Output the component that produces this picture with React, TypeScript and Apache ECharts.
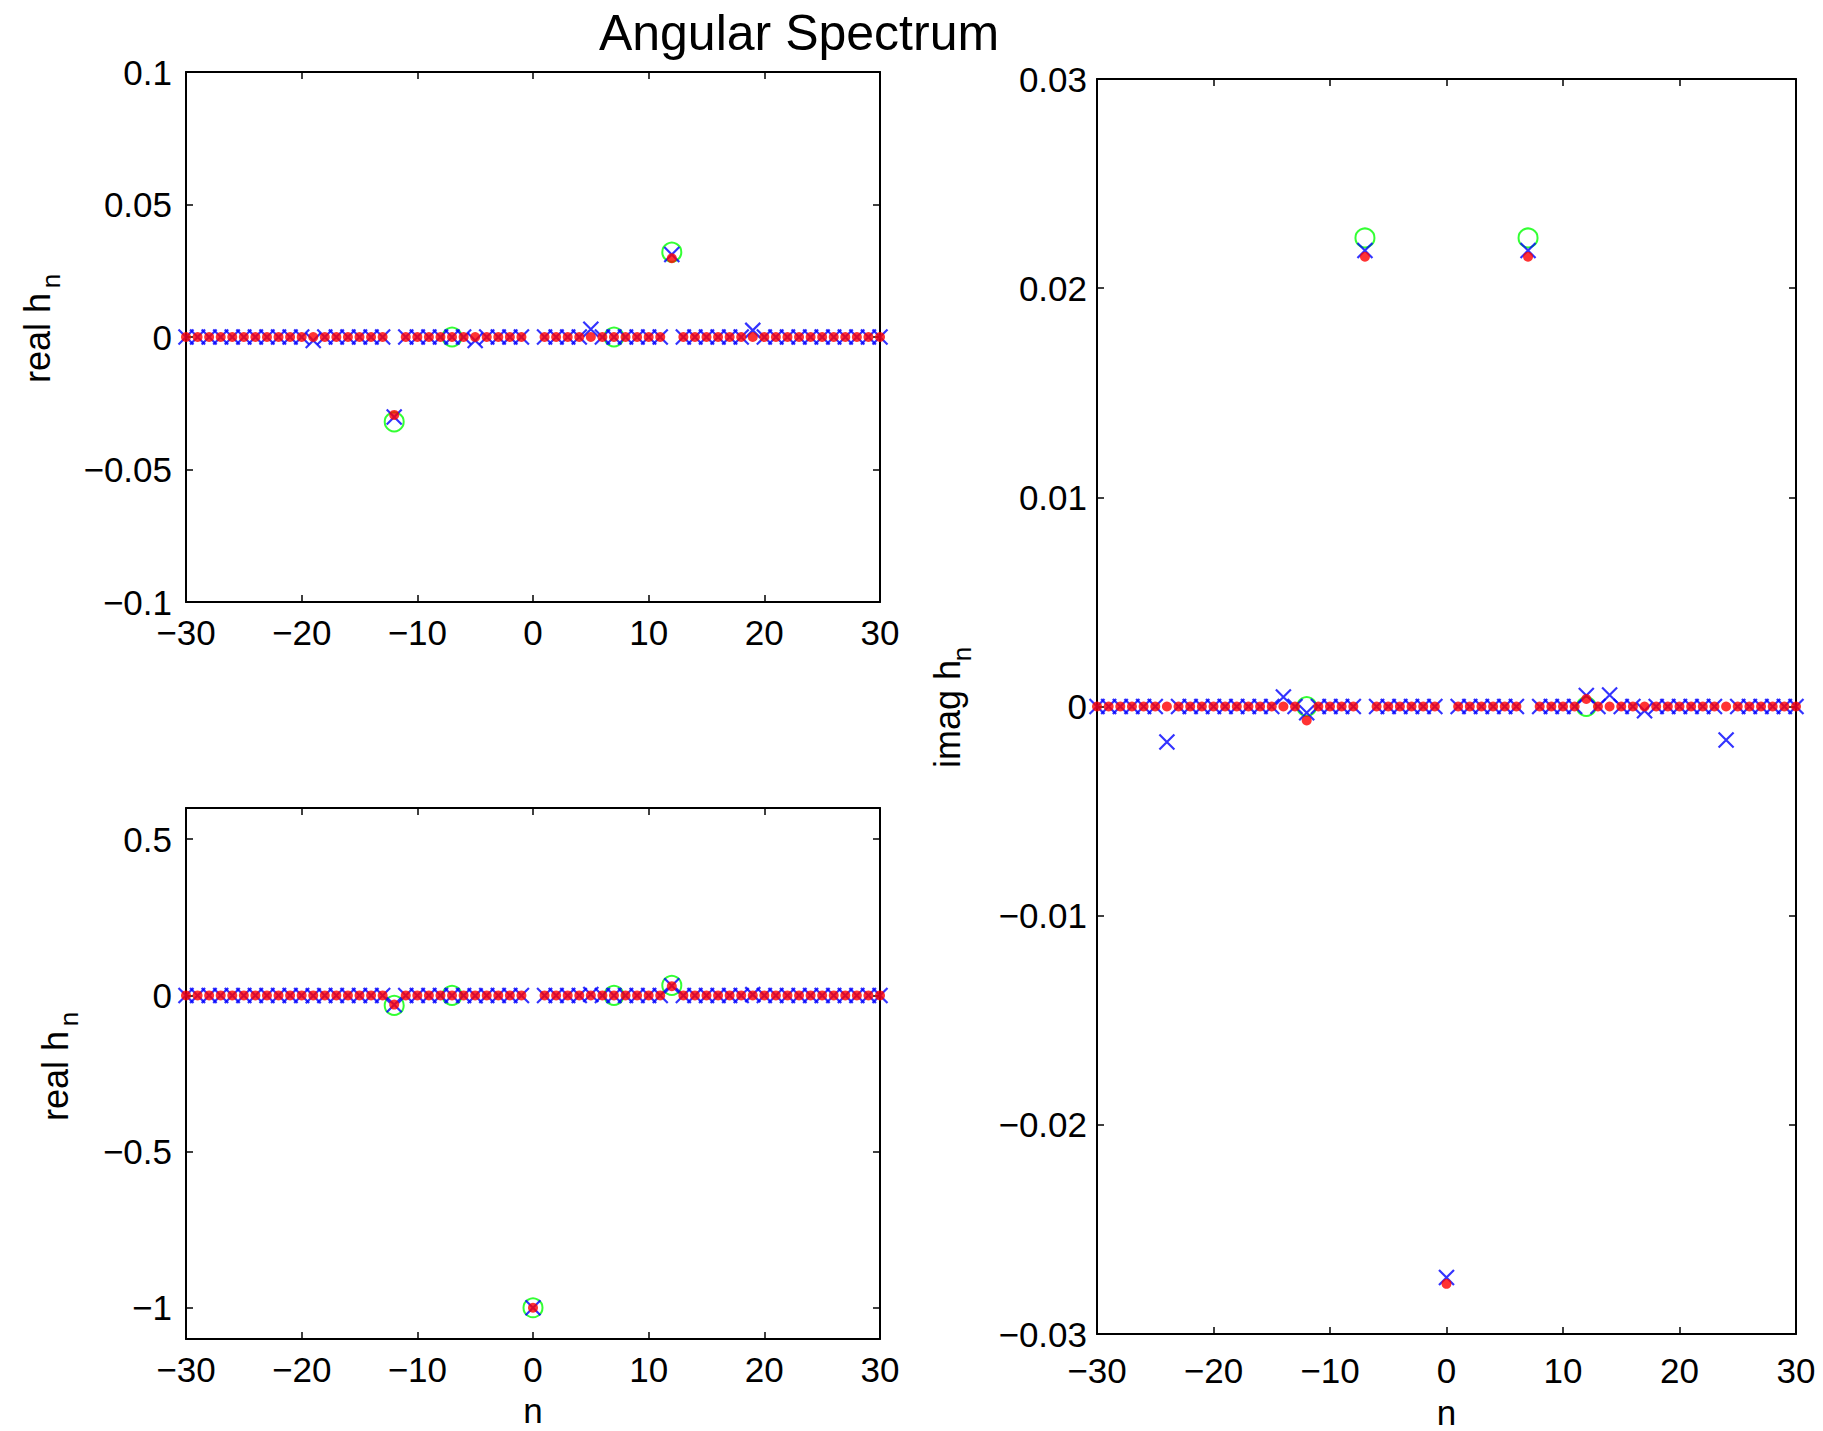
import React, { useEffect, useRef } from "react";
import * as echarts from "echarts";

// ---- data ----
const nValues = [
  -30, -29, -28, -27, -26, -25, -24, -23, -22, -21,
  -20, -19, -18, -17, -16, -15, -14, -13, -12, -11,
  -10, -9, -8, -7, -6, -5, -4, -3, -2, -1,
  0, 1, 2, 3, 4, 5, 6, 7, 8, 9,
  10, 11, 12, 13, 14, 15, 16, 17, 18, 19,
  20, 21, 22, 23, 24, 25, 26, 27, 28, 29,
  30,
];

// true (green circles), only at a few n
const realTrueN = [-12, -7, 0, 7, 12];
const realTrueVals = [-0.032, 0, -1, 0, 0.032];
const imagTrueN = [-12, -7, 7, 12];
const imagTrueVals = [0, 0.0224, 0.0224, 0];

// estimate (blue x)
const realEst = [
  0, 0, 0, 0, 0, 0, 0, 0, 0, 0,
  0, -0.0013, 0, 0, 0, 0, 0, 0, -0.0302, 0,
  0, 0, 0, 0, 0, -0.0013, 0, 0, 0, 0,
  -1, 0, 0, 0, 0, 0.0029, 0, 0, 0, 0,
  0, 0, 0.0311, 0, 0, 0, 0, 0, 0, 0.0025,
  0, 0, 0, 0, 0, 0, 0, 0, 0, 0,
  0,
];
// reconstruction (red dots)
const realRecon = [
  0, 0, 0, 0, 0, 0, 0, 0, 0, 0,
  0, 0, 0, 0, 0, 0, 0, 0, -0.0294, 0,
  0, 0, 0, 0, 0, 0, 0, 0, 0, 0,
  -1, 0, 0, 0, 0, 0, 0, 0, 0, 0,
  0, 0, 0.0297, 0, 0, 0, 0, 0, 0, 0,
  0, 0, 0, 0, 0, 0, 0, 0, 0, 0,
  0,
];
const imagEst = [
  0, 0, 0, 0, 0, 0, -0.0017, 0, 0, 0,
  0, 0, 0, 0, 0, 0, 0.00045, 0, -0.0003, 0,
  0, 0, 0, 0.0218, 0, 0, 0, 0, 0, 0,
  -0.0273, 0, 0, 0, 0, 0, 0, 0.0218, 0, 0,
  0, 0, 0.00053, 0, 0.00055, 0, 0, -0.0002, 0, 0,
  0, 0, 0, 0, -0.0016, 0, 0, 0, 0, 0,
  0,
];
const imagRecon = [
  0, 0, 0, 0, 0, 0, 0, 0, 0, 0,
  0, 0, 0, 0, 0, 0, 0, 0, -0.00067, 0,
  0, 0, 0, 0.0215, 0, 0, 0, 0, 0, 0,
  -0.0276, 0, 0, 0, 0, 0, 0, 0.0215, 0, 0,
  0, 0, 0.00036, 0, 0, 0, 0, 0, 0, 0,
  0, 0, 0, 0, 0, 0, 0, 0, 0, 0,
  0,
];

const xTicks = [-30, -20, -10, 0, 10, 20, 30];
const yTicksTop = [-0.1, -0.05, 0, 0.05, 0.1];
const yTicksBottom = [-1, -0.5, 0, 0.5];
const yTicksRight = [-0.03, -0.02, -0.01, 0, 0.01, 0.02, 0.03];

const FONT = '"Liberation Sans", Arial, Helvetica, sans-serif';

function fmt(v: number): string {
  if (Math.abs(v) < 1e-12) return "0";
  return String(parseFloat(v.toPrecision(6))).replace("-", "\u2212");
}

function pairs(xs: number[], ys: number[], lo: number, hi: number) {
  const out: number[][] = [];
  for (let i = 0; i < xs.length; i++) {
    if (ys[i] >= lo && ys[i] <= hi) out.push([xs[i], ys[i]]);
  }
  return out;
}

export default function App() {
  const ref = useRef<HTMLDivElement>(null);
  useEffect(() => {
    document.body.style.margin = "0";
    const chart = echarts.init(ref.current!, null, { renderer: "svg" });

    const grids = [
      { left: 186, top: 72, width: 694, height: 530 },
      { left: 186, top: 808, width: 694, height: 531 },
      { left: 1097, top: 79, width: 699, height: 1255 },
    ];
    const yRanges = [
      [-0.1, 0.1],
      [-1.1, 0.6],
      [-0.03, 0.03],
    ];
    const yTickSets = [yTicksTop, yTicksBottom, yTicksRight];
    const yMargins = [14, 14, 10];
    const xMargins = [13, 13, 19];
    const xNameGaps = [0, 54, 61];

    const lineStyle = { color: "#000", width: 2 };
    const tickStyle = { color: "#000", width: 1.5 };
    const labelStyle = { fontSize: 35, color: "#000", fontFamily: FONT };

    const xAxis: any[] = [];
    const yAxis: any[] = [];
    grids.forEach((_, g) => {
      xAxis.push({
        type: "value", gridIndex: g, position: "bottom",
        min: -30, max: 30, interval: 10,
        axisLine: { onZero: false, lineStyle },
        axisTick: { inside: true, length: 7, lineStyle: tickStyle },
        axisLabel: { ...labelStyle, margin: xMargins[g], formatter: (v: number) => fmt(v), customValues: xTicks },
        splitLine: { show: false },
        name: g > 0 ? "n" : "",
        nameLocation: "middle",
        nameGap: xNameGaps[g],
        nameTextStyle: { ...labelStyle },
      });
      xAxis.push({
        type: "value", gridIndex: g, position: "top",
        min: -30, max: 30, interval: 10,
        axisLine: { onZero: false, lineStyle },
        axisTick: { inside: true, length: 7, lineStyle: tickStyle },
        axisLabel: { show: false },
        splitLine: { show: false },
      });
      yAxis.push({
        type: "value", gridIndex: g, position: "left",
        min: yRanges[g][0], max: yRanges[g][1],
        axisLine: { onZero: false, lineStyle },
        axisTick: { inside: true, length: 7, lineStyle: tickStyle, customValues: yTickSets[g] },
        axisLabel: { ...labelStyle, margin: yMargins[g], formatter: (v: number) => fmt(v), customValues: yTickSets[g] },
        splitLine: { show: false },
      });
      yAxis.push({
        type: "value", gridIndex: g, position: "right",
        min: yRanges[g][0], max: yRanges[g][1],
        axisLine: { onZero: false, lineStyle },
        axisTick: { inside: true, length: 7, lineStyle: tickStyle, customValues: yTickSets[g] },
        axisLabel: { show: false },
        splitLine: { show: false },
      });
    });

    const greenStyle = { color: "transparent", borderColor: "#00ff00", borderWidth: 2 };
    const blueStyle = { color: "#0000ff", borderColor: "#0000ff", borderWidth: 2.2 };
    const redStyle = { color: "#ff0000" };
    const xSymbol = "path://M0,0L10,10M10,0L0,10";

    const series: any[] = [];
    const datasets = [
      { tn: realTrueN, tv: realTrueVals, est: realEst, rec: realRecon },
      { tn: realTrueN, tv: realTrueVals, est: realEst, rec: realRecon },
      { tn: imagTrueN, tv: imagTrueVals, est: imagEst, rec: imagRecon },
    ];
    datasets.forEach((d, g) => {
      const [lo, hi] = yRanges[g];
      series.push({
        name: "true", type: "scatter", xAxisIndex: 2 * g, yAxisIndex: 2 * g,
        data: pairs(d.tn, d.tv, lo, hi), symbol: "circle", symbolSize: 19,
        itemStyle: greenStyle, clip: false, silent: true,
      });
      series.push({
        name: "estimate", type: "scatter", xAxisIndex: 2 * g, yAxisIndex: 2 * g,
        data: pairs(nValues, d.est, lo, hi), symbol: xSymbol, symbolSize: 15,
        itemStyle: blueStyle, clip: false, silent: true,
      });
      series.push({
        name: "reconstruction", type: "scatter", xAxisIndex: 2 * g, yAxisIndex: 2 * g,
        data: pairs(nValues, d.rec, lo, hi), symbol: "circle", symbolSize: 10,
        itemStyle: redStyle, clip: false, silent: true,
      });
    });

    const txt = (text: string, x: number, y: number, size: number) => ({
      type: "text", x, y, rotation: Math.PI / 2,
      style: {
        text, fontSize: size, fontFamily: FONT, fill: "#000",
        align: "center", verticalAlign: "middle",
        textAlign: "center", textVerticalAlign: "middle",
      },
    });

    chart.setOption({
      animation: false,
      backgroundColor: "#fff",
      title: {
        text: "Angular Spectrum", left: 799, top: 8, textAlign: "center", padding: 0,
        textStyle: { fontSize: 50, fontWeight: "normal", fontFamily: FONT, color: "#000" },
      },
      grid: grids.map((g) => ({ ...g, containLabel: false, outerBoundsMode: "none" })),
      xAxis,
      yAxis,
      series,
      graphic: [
        txt("real h", 37, 338, 36),
        txt("n", 51, 281, 26),
        txt("real h", 55, 1076, 36),
        txt("n", 69, 1019, 26),
        txt("imag h", 947, 714, 36),
        txt("n", 962, 654, 26),
      ],
    });
    return () => chart.dispose();
  }, []);
  return (
    <div
      ref={ref}
      style={{ position: "absolute", left: 0, top: 0, width: 1823, height: 1431 }}
    />
  );
}
